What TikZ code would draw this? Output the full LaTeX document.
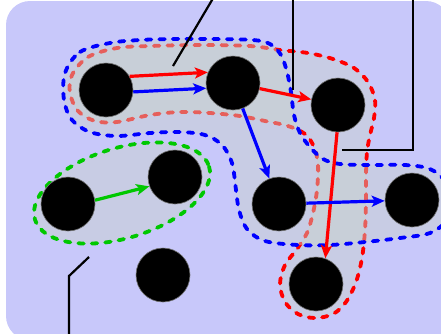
\documentclass[tikz,border=0pt]{standalone}
\usetikzlibrary{arrows.meta}
\definecolor{bgc}{RGB}{200,200,250}
\definecolor{hullc}{RGB}{200,211,202}
\definecolor{hred}{RGB}{255,0,0}
\definecolor{hblue}{RGB}{0,0,255}
\definecolor{hgreen}{RGB}{0,200,0}
\begin{document}
\begin{tikzpicture}[x=1pt,y=-1pt,
  vertex/.style={circle, fill=black, draw=black!55, line width=0.6pt, minimum size=54pt, inner sep=0pt},
  hull/.style={fill=hullc, fill opacity=0.45, line width=3.8pt, line cap=round, dash pattern=on 5.5pt off 8pt},
  edge/.style={line width=3.2pt, -{Stealth[length=13pt,width=11pt,inset=3pt]}},
  wire/.style={line width=2.2pt, draw=black}]
\useasboundingbox (0,0) rectangle (441,333);
\clip (0,0) rectangle (441,333);
\fill[bgc, rounded corners=24pt] (6,1) rectangle (450,340);

% red hull A-B-C-I
\path[hull, draw=hred] plot[smooth cycle, tension=0.55] coordinates {
 (72,75) (88,57) (117,48) (150,46) (200,45) (250,46) (280,50) (308,53) (333,59)
 (354,68) (368,82) (375,100) (374,118) (370,135) (367,152) (366,175) (366,200)
 (365,230) (362,258) (356,282) (346,302) (333,314) (315,318) (298,314) (285,302)
 (280,284) (285,265) (297,249) (307,233) (313,213) (317,190) (318,165) (314,147)
 (305,134) (288,126) (265,121) (240,116) (210,113) (180,112) (150,115) (117,122)
 (95,121) (78,111) (70,93)};

% blue hull A-B-F-G
\path[hull, draw=hblue] plot[smooth cycle, tension=0.55] coordinates {
 (65,73) (80,52) (110,43) (140,40) (175,39) (213,39) (253,40) (270,44) (281,55)
 (287,72) (291,92) (294,115) (300,133) (310,147) (323,159) (340,164) (370,165)
 (405,165) (430,169) (446,182) (452,200) (447,220) (430,233) (400,238) (365,242)
 (330,245) (298,245) (265,241) (247,229) (239,210) (236,190) (232,163) (222,145)
 (205,135) (180,132) (150,133) (117,136) (90,132) (72,120) (64,100)};

% green hull D-E
\path[hull, draw=hgreen, shift={(122,193)}, rotate=17] (0,0) ellipse [x radius=91, y radius=45];

% callout wires
\coordinate (w1a) at (173,66);
\coordinate (w1b) at (215,-5);
\coordinate (w2a) at (293,90);
\coordinate (w2b) at (293,-5);
\coordinate (w3a) at (342,150);
\coordinate (w3b) at (413,150);
\coordinate (w3c) at (413,-5);
\coordinate (w4a) at (89,257);
\coordinate (w4b) at (69,276);
\coordinate (w4c) at (69,340);
\draw[wire] (w1a) -- (w1b);
\draw[wire] (w2a) -- (w2b);
\draw[wire] (w3a) -- (w3b) -- (w3c);
\draw[wire] (w4a) -- (w4b) -- (w4c);

% vertices
\node[vertex] (A) at (106,90) {};
\node[vertex] (B) at (233,83) {};
\node[vertex] (C) at (338,105) {};
\node[vertex] (D) at (68,204) {};
\node[vertex] (E) at (175,177) {};
\node[vertex] (F) at (279,204) {};
\node[vertex] (G) at (412,200) {};
\node[vertex] (H) at (163,275) {};
\node[vertex] (I) at (316,284) {};

% edges
\draw[edge, hred] (A.30) -- (B.157);
\draw[edge, hblue] (A.-4) -- (B.191);
\draw[edge, hred] (B) -- (C);
\draw[edge, hblue] (B) -- (F);
\draw[edge, hred] (C.268) -- (I.70);
\draw[edge, hblue] (F) -- (G);
\draw[edge, hgreen] (D.8) -- (E.200);
\end{tikzpicture}
\end{document}
